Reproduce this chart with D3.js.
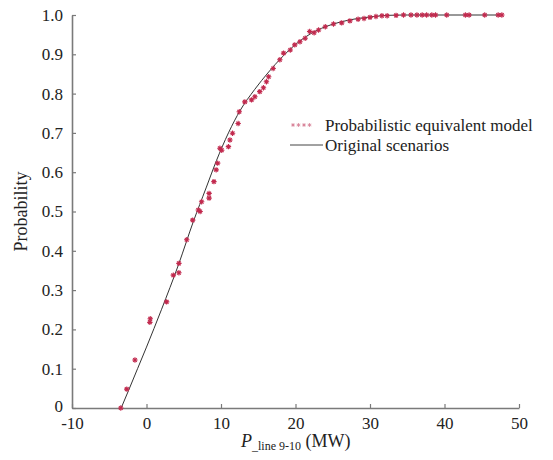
<!DOCTYPE html>
<html>
<head>
<meta charset="utf-8">
<script src="https://cdn.jsdelivr.net/npm/d3@7"></script>
<style>
  body { margin: 0; background: #fff; }
  svg text { font-family: "Liberation Serif", "Times New Roman", serif; fill: #222; }
</style>
</head>
<body>
<div id="chart"></div>
<script>
// original scenarios (CDF line)
var origX = [-3.4, -2.4, -1.2, 0.0, 2.0, 4.3, 6.3, 8.0, 9.4, 11.0, 12.6, 14.5, 16.4, 18.2, 20.0, 22.0, 24.0, 26.0, 28.0, 30.0, 32.2, 35.0, 47.5];
var origP = [0, 0.045, 0.1, 0.155, 0.25, 0.365, 0.475, 0.56, 0.63, 0.7, 0.758, 0.81, 0.855, 0.893, 0.925, 0.952, 0.97, 0.982, 0.99, 0.995, 0.999, 1.0, 1.0];

// probabilistic equivalent model (markers)
var modelX = [-3.45, -2.65, -1.55, 0.45, 0.5, 2.7, 3.6, 4.35, 4.35, 5.4, 6.2, 6.95, 7.2, 7.4, 8.4, 8.4, 9.05, 9.35, 9.55, 9.85, 10.1, 11.0, 11.2, 11.55, 12.3, 12.45, 13.2, 14.1, 14.55, 15.2, 15.7, 16.1, 16.4, 17.0, 17.9, 18.4, 19.3, 19.9, 20.6, 21.3, 21.9, 22.5, 23.1, 24.0, 25.1, 26.2, 27.3, 28.4, 29.2, 30.0, 30.8, 31.6, 32.3, 33.5, 34.5, 35.5, 36.3, 37.0, 37.6, 38.3, 38.8, 40.3, 42.8, 43.3, 45.4, 47.2, 47.7];
var modelP = [0, 0.048, 0.122, 0.218, 0.227, 0.27, 0.338, 0.344, 0.368, 0.428, 0.478, 0.504, 0.5, 0.525, 0.534, 0.546, 0.576, 0.606, 0.623, 0.661, 0.656, 0.665, 0.682, 0.699, 0.724, 0.754, 0.779, 0.784, 0.792, 0.805, 0.815, 0.83, 0.843, 0.864, 0.886, 0.903, 0.911, 0.924, 0.932, 0.941, 0.958, 0.955, 0.962, 0.97, 0.977, 0.98, 0.985, 0.989, 0.991, 0.994, 0.996, 0.998, 0.998, 0.999, 1, 1, 1, 1, 1, 1, 1, 1, 1, 1, 1, 1, 1];

var xTicks = [-10, 0, 10, 20, 30, 40, 50];
var yTicks = [0, 0.1, 0.2, 0.3, 0.4, 0.5, 0.6, 0.7, 0.8, 0.9, 1.0];

var W = 553, H = 460;
var margin = {left: 72, top: 15, right: 34, bottom: 52};

var svg = d3.select("#chart").append("svg")
  .attr("width", W)
  .attr("height", H);

var x = d3.scaleLinear()
  .domain([-10, 50])
  .range([margin.left, W - margin.right]);

var y = d3.scaleLinear()
  .domain([0, 1])
  .range([H - margin.bottom, margin.top]);

var axisColor = "#7a7a7a";

var gx = svg.append("g")
  .attr("transform", "translate(0," + y(0) + ")")
  .call(d3.axisBottom(x).tickValues(xTicks).tickSizeInner(-4).tickSizeOuter(0).tickPadding(9)
    .tickFormat(function(d) { return String(d); }));

var gy = svg.append("g")
  .attr("transform", "translate(" + x(-10) + ",0)")
  .call(d3.axisLeft(y).tickValues(yTicks).tickSizeInner(-4).tickSizeOuter(0).tickPadding(9)
    .tickFormat(function(d) { return d === 0 ? "0" : d.toFixed(1); }));

[gx, gy].forEach(function(g) {
  g.select(".domain").attr("stroke", axisColor).attr("stroke-width", 1.6);
  g.selectAll(".tick line").attr("stroke", axisColor).attr("stroke-width", 1.2);
  g.selectAll(".tick text")
    .attr("font-size", 17)
    .attr("fill", "#222");
});
gy.select(".tick text").attr("dy", "0.2em");

// original scenarios line
var line = d3.line()
  .x(function(d, i) { return x(origX[i]); })
  .y(function(d, i) { return y(origP[i]); })
  .curve(d3.curveMonotoneX);

svg.append("path")
  .datum(origX)
  .attr("d", line)
  .attr("fill", "none")
  .attr("stroke", "#333")
  .attr("stroke-width", 1);

// asterisk marker
function star(r) {
  var d = r * 0.7;
  return "M" + (-r) + ",0L" + r + ",0M0," + (-r) + "L0," + r +
    "M" + (-d) + "," + (-d) + "L" + d + "," + d + "M" + (-d) + "," + d + "L" + d + "," + (-d);
}

svg.append("g")
  .selectAll("path")
  .data(modelX)
  .enter()
  .append("path")
  .attr("transform", function(d, i) { return "translate(" + x(d) + "," + y(modelP[i]) + ")"; })
  .attr("d", star(2.7))
  .attr("fill", "none")
  .attr("stroke", "#c22a4e")
  .attr("stroke-width", 1.1);

// legend
var legend = svg.append("g").attr("transform", "translate(290,125)");

legend.selectAll("path")
  .data([0, 1, 2, 3])
  .enter()
  .append("path")
  .attr("transform", function(d) { return "translate(" + (3 + d * 5.5) + ",0)"; })
  .attr("d", star(1.8))
  .attr("fill", "none")
  .attr("stroke", "#d9879c")
  .attr("stroke-width", 1);

legend.append("text")
  .attr("x", 35)
  .attr("y", 6)
  .attr("font-size", 17)
  .text("Probabilistic equivalent model");

legend.append("line")
  .attr("x1", 0).attr("x2", 33)
  .attr("y1", 20).attr("y2", 20)
  .attr("stroke", "#444")
  .attr("stroke-width", 1);

legend.append("text")
  .attr("x", 35)
  .attr("y", 26)
  .attr("font-size", 17)
  .text("Original scenarios");

// axis labels
svg.append("text")
  .attr("transform", "translate(27," + ((y(0) + y(1)) / 2) + ") rotate(-90)")
  .attr("text-anchor", "middle")
  .attr("font-size", 18)
  .text("Probability");

var xl = svg.append("text")
  .attr("x", 241)
  .attr("y", 447)
  .attr("font-size", 18);
xl.append("tspan").attr("font-style", "italic").text("P");
xl.append("tspan").attr("font-size", 12).attr("dy", 3).text("_line 9-10");
xl.append("tspan").attr("dy", -3).text(" (MW)");
</script>
</body>
</html>
